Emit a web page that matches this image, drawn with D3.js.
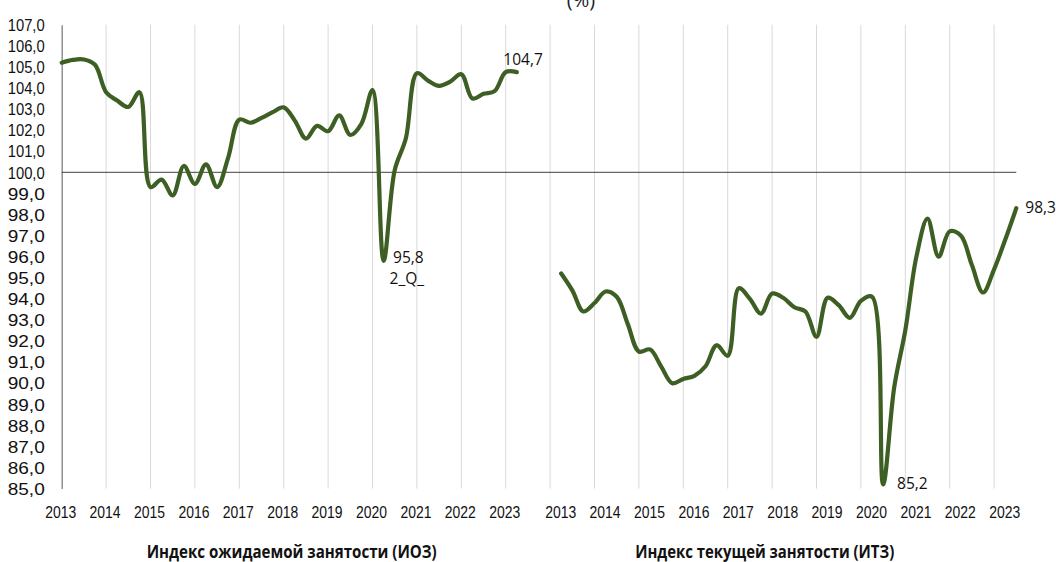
<!DOCTYPE html>
<html><head><meta charset="utf-8">
<script src="https://cdn.jsdelivr.net/npm/d3@7"></script>
<style>body{margin:0;background:#fff}svg{display:block}</style>
</head><body>
<svg id="c" width="1056" height="562"></svg>
<script>
// ---- data ----
const years = ["2013","2014","2015","2016","2017","2018","2019","2020","2021","2022","2023"];
// quarterly, 2013Q1 .. 2023Q2
const iozValues = [105.2,105.33,105.35,105.1,103.8,103.4,103.1,103.8,99.3,99.65,
  98.9,100.3,99.45,100.38,99.3,100.7,102.5,102.35,102.58,102.85,
  103.08,102.45,101.6,102.2,101.95,102.7,101.77,102.3,103.9,95.8,
  100.1,101.6,104.7,104.35,104.1,104.3,104.65,103.5,103.72,103.85,
  104.75,104.75];
const itzValues = [95.2,94.4,93.4,93.8,94.35,94.1,92.8,91.5,91.6,90.8,
  90.0,90.2,90.35,90.8,91.8,91.3,94.5,94.0,93.3,94.25,
  94.05,93.6,93.4,92.2,94.05,93.7,93.1,93.9,94.1,85.2,
  89.8,92.5,96.0,97.8,96.0,97.2,97.0,95.6,94.3,95.4,
  96.8,98.3];
const yTicks = d3.range(85, 108, 1);
const seriesTitles = ["Индекс ожидаемой занятости (ИОЗ)", "Индекс текущей занятости (ИТЗ)"];
const labelIoz = ["104,7", "95,8", "2_Q_"];
const labelItz = ["85,2", "98,3"];

// ---- layout ----
const svg = d3.select("#c");
const x = d3.scaleLinear().domain([0, 86]).range([61.7, 1016.3]);
const y = d3.scaleLinear().domain([85, 107]).range([488.6, 24.7]);
const rightOffset = 45;
const green = "#3e5f24";

// top title remnant (cut by the frame in the reference)
svg.append("text").attr("x", 581).attr("y", 7).attr("text-anchor", "middle")
  .attr("font-family", "Open Sans").attr("font-size", 20).attr("fill", "#222").text("(%)");

// vertical gridlines
const gridQ = d3.range(1, 22).map(k => 4 * k);
svg.append("g").selectAll("line").data(gridQ).join("line")
  .attr("x1", d => x(d)).attr("x2", d => x(d))
  .attr("y1", y(107)).attr("y2", y(85))
  .attr("stroke", "#d9d9d9").attr("stroke-width", 1);

// y axis
const yAxis = d3.axisLeft(y).tickValues(yTicks).tickSize(0).tickPadding(0)
  .tickFormat(d => d.toFixed(1).replace(".", ","));
const ya = svg.append("g").attr("transform", `translate(${x(0)},0)`).call(yAxis);
ya.select(".domain").attr("stroke", "#808080").attr("stroke-width", 1.3);
ya.selectAll("text").attr("x", -17).attr("dy", "0.36em")
  .attr("font-family", "Liberation Sans, Arial, sans-serif").attr("font-size", 16)
  .attr("fill", "#111").attr("textLength", 37).attr("lengthAdjust", "spacingAndGlyphs");

// 100 reference line
svg.append("line").attr("x1", x(0)).attr("x2", x(86))
  .attr("y1", y(100)).attr("y2", y(100)).attr("stroke", "#404040").attr("stroke-width", 1);

// x labels (two groups)
const xAxisL = d3.axisBottom(x).tickValues(years.map((d, i) => 4 * i))
  .tickFormat((d, i) => years[i]).tickSize(0);
const xAxisR = d3.axisBottom(x).tickValues(years.map((d, i) => rightOffset + 4 * i))
  .tickFormat((d, i) => years[i]).tickSize(0);
[[xAxisL, -1.5], [xAxisR, -1]].forEach(([ax, dx]) => {
  const g = svg.append("g").attr("transform", `translate(${dx},518.3)`).call(ax);
  g.select(".domain").remove();
  g.selectAll("text").attr("y", 0).attr("dy", 0)
    .attr("font-family", "Liberation Sans, Arial, sans-serif").attr("font-size", 16)
    .attr("fill", "#111").attr("textLength", 31).attr("lengthAdjust", "spacingAndGlyphs");
});

// lines
const line = d3.line().x(d => x(d[0])).y(d => y(d[1])).curve(d3.curveCatmullRom.alpha(0.5));
const iozPts = iozValues.map((v, i) => [i, v]);
const itzPts = itzValues.map((v, i) => [rightOffset + i, v]);
[iozPts, itzPts].forEach(p => {
  svg.append("path").attr("d", line(p)).attr("fill", "none")
    .attr("stroke", green).attr("stroke-width", 4.2).attr("stroke-linejoin", "round").attr("stroke-linecap", "round");
});

// annotations
const annFont = "Open Sans, sans-serif";
function ann(t, xx, yy) {
  svg.append("text").attr("x", xx).attr("y", yy).attr("font-family", annFont)
    .attr("font-size", 15.5).attr("fill", "#111").text(t);
}
const iLast = iozValues.length - 1;
ann(labelIoz[0], x(iLast) - 13.5, y(iozValues[iLast]) - 7);
const iMin = iozValues.indexOf(d3.min(iozValues));
ann(labelIoz[1], x(iMin) + 9.5, y(iozValues[iMin]) + 2);
ann(labelIoz[2], x(iMin) + 6, y(iozValues[iMin]) + 23);
const rMin = itzValues.indexOf(d3.min(itzValues));
ann(labelItz[0], x(rightOffset + rMin) + 14, y(itzValues[rMin]) + 5);
const rLast = itzValues.length - 1;
ann(labelItz[1], x(rightOffset + rLast) + 9, y(itzValues[rLast]) + 5);

// series titles
[[seriesTitles[0], 291.7, 290], [seriesTitles[1], 764.7, 259]].forEach(([t, cx, len]) => {
  svg.append("text").attr("x", cx).attr("y", 557.5).attr("text-anchor", "middle")
    .attr("font-family", "Open Sans, sans-serif").attr("font-weight", "bold").attr("font-size", 17.5)
    .attr("fill", "#111").attr("textLength", len).attr("lengthAdjust", "spacingAndGlyphs").text(t);
});
</script>
</body></html>
